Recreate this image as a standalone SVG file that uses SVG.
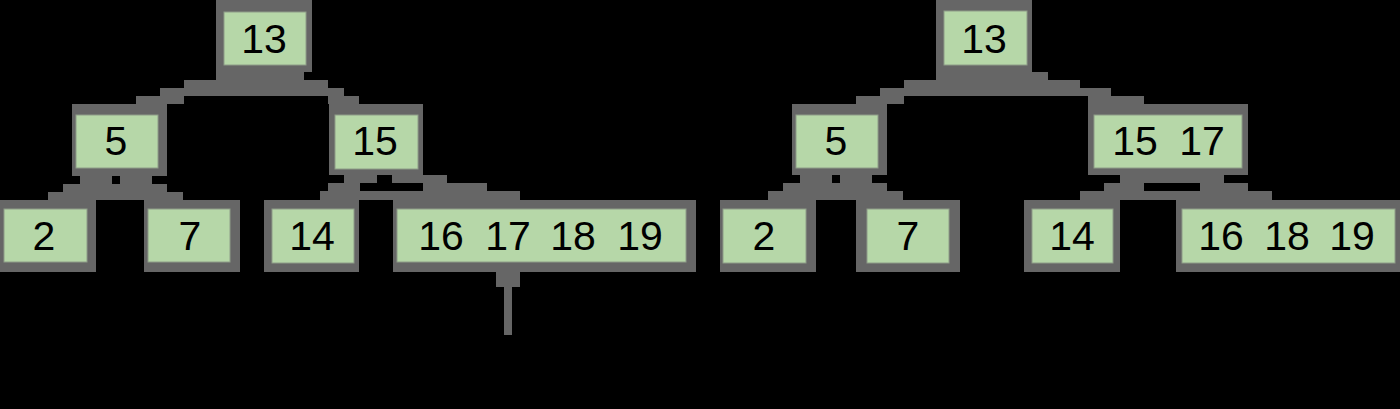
<svg xmlns="http://www.w3.org/2000/svg" width="1400" height="409" viewBox="0 0 1400 409">
<style>
.frame{fill:#666666}
.box{fill:#b6d7a8;stroke:#8e9c88;stroke-width:1}
.conn{fill:#666666}
.lbl{font-family:"Liberation Sans",Arial,sans-serif;font-size:41px;fill:#000;text-anchor:middle}
</style>
<rect x="0" y="0" width="1400" height="409" fill="#000"/>
<g id="connectors">
<path class="conn" d="M216 72H304V80H328V88H344V96H359V104H328V96H184V104H136V96H160V88H184V80H216Z"/>
<path class="conn" d="M80 176H112V184H80ZM120 176H152V184H120ZM63 184H167V192H183V200H48V192H63Z"/>
<path class="conn" d="M344 175H377V183H344ZM392 175H447V183H392ZM328 183H360V191H328ZM423 183H487V191H423ZM320 191H520V200H320Z"/>
<path class="conn" d="M496 271H520V287H512V335H504V287H496Z"/>
<path class="conn" d="M936 72H1048V80H1080V88H1111V96H1144V104H1088V96H904V104H856V96H880V88H904V80H936Z"/>
<path class="conn" d="M800 175H832V183H800ZM840 175H872V183H840ZM783 183H887V191H903V200H768V191H783Z"/>
<path class="conn" d="M1120 175H1224V183H1120ZM1104 183H1144V191H1104ZM1200 183H1248V191H1200ZM1080 191H1272V200H1080Z"/>
</g>
<g id="L13"><rect class="frame" x="216" y="0" width="96" height="72"/><rect class="box" x="224" y="12" width="82" height="53"/><text class="lbl" x="264" y="53">13</text></g>
<g id="L5"><rect class="frame" x="72" y="104" width="95" height="72"/><rect class="box" x="76" y="115" width="82" height="53"/><text class="lbl" x="116" y="155">5</text></g>
<g id="L15"><rect class="frame" x="329" y="104" width="94" height="71"/><rect class="box" x="335" y="115" width="83" height="54"/><text class="lbl" x="375" y="155">15</text></g>
<g id="L2"><rect class="frame" x="0" y="200" width="96" height="72"/><rect class="box" x="4" y="209" width="83" height="53"/><text class="lbl" x="44" y="250">2</text></g>
<g id="L7"><rect class="frame" x="144" y="200" width="96" height="72"/><rect class="box" x="148" y="209" width="82" height="53"/><text class="lbl" x="190" y="250">7</text></g>
<g id="L14"><rect class="frame" x="264" y="200" width="95" height="72"/><rect class="box" x="272" y="209" width="82" height="54"/><text class="lbl" x="312" y="250">14</text></g>
<g id="L16-19"><rect class="frame" x="393" y="200" width="303" height="72"/><rect class="box" x="397" y="209" width="289" height="53"/><text class="lbl" x="441" y="250">16</text><text class="lbl" x="508" y="250">17</text><text class="lbl" x="573" y="250">18</text><text class="lbl" x="640" y="250">19</text></g>
<g id="R13"><rect class="frame" x="936" y="0" width="96" height="72"/><rect class="box" x="944" y="11" width="83" height="54"/><text class="lbl" x="984" y="53">13</text></g>
<g id="R5"><rect class="frame" x="792" y="104" width="95" height="71"/><rect class="box" x="796" y="115" width="82" height="53"/><text class="lbl" x="836" y="155">5</text></g>
<g id="R15-17"><rect class="frame" x="1088" y="104" width="160" height="71"/><rect class="box" x="1094" y="115" width="148" height="53"/><text class="lbl" x="1135" y="155">15</text><text class="lbl" x="1202" y="155">17</text></g>
<g id="R2"><rect class="frame" x="720" y="200" width="96" height="72"/><rect class="box" x="723" y="209" width="83" height="54"/><text class="lbl" x="764" y="250">2</text></g>
<g id="R7"><rect class="frame" x="856" y="200" width="104" height="72"/><rect class="box" x="867" y="209" width="82" height="54"/><text class="lbl" x="908" y="250">7</text></g>
<g id="R14"><rect class="frame" x="1024" y="200" width="96" height="72"/><rect class="box" x="1032" y="209" width="81" height="54"/><text class="lbl" x="1072" y="250">14</text></g>
<g id="R16-19"><rect class="frame" x="1176" y="200" width="224" height="72"/><rect class="box" x="1182" y="209" width="213" height="54"/><text class="lbl" x="1221" y="250">16</text><text class="lbl" x="1287" y="250">18</text><text class="lbl" x="1352" y="250">19</text></g>
</svg>
